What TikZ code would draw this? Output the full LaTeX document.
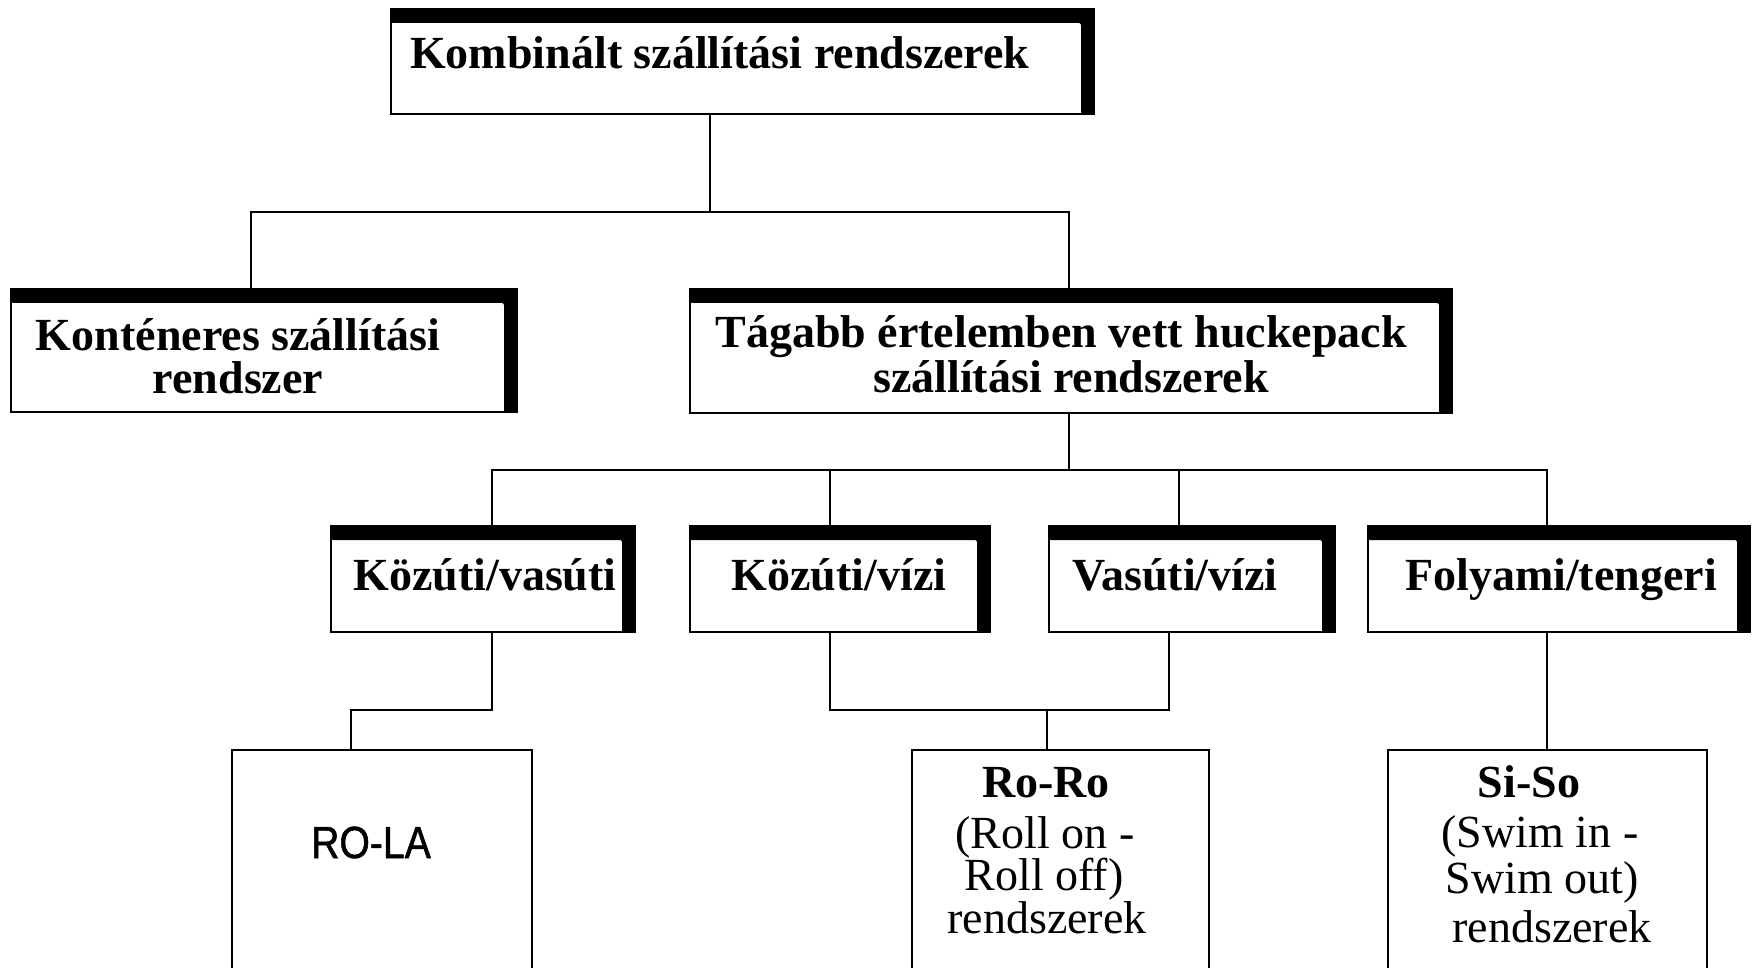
\documentclass[tikz,border=0pt]{standalone}
\usepackage{fontspec}
\setmainfont{Liberation Serif}
\newfontfamily\rolafont[FakeStretch=0.87,FakeBold=1.2]{Liberation Sans}
\newcommand{\heavybar}[1]{%
  \fill[rounded corners=2pt] (#1.north west) -- (#1.north east) -- (#1.south east)
    -- ([xshift=-13pt]#1.south east) -- ([xshift=-13pt,yshift=-14pt]#1.north east)
    -- ([yshift=-14pt]#1.north west) -- cycle;}
\begin{document}
\begin{tikzpicture}[x=1pt,y=-1pt,
  frame/.style={draw, line width=2.8pt, inner sep=0pt, outer sep=0pt, anchor=north west},
  openframe/.style={inner sep=0pt, outer sep=0pt, anchor=north west},
  conn/.style={line width=2.8pt},
  btxt/.style={font=\fontsize{46}{46}\selectfont\bfseries, anchor=base, inner sep=0pt, text height=30pt, text depth=8pt},
  rtxt/.style={font=\fontsize{46}{46}\selectfont, anchor=base, inner sep=0pt, text height=30pt, text depth=8pt},
  mtxt/.style={anchor=base, inner sep=0pt, align=center, font=\fontsize{46}{40}\selectfont}]
\useasboundingbox (0,0) rectangle (1754,968);
\fill[white] (0,0) rectangle (1754,968);

% boxes
\node[frame, minimum width=703pt, minimum height=105pt] (t0) at (391,9) {};
\node[frame, minimum width=506pt, minimum height=123pt] (k) at (11,289) {};
\node[frame, minimum width=762pt, minimum height=124pt] (tg) at (690,289) {};
\node[frame, minimum width=304pt, minimum height=106pt] (kv) at (331,526) {};
\node[frame, minimum width=300pt, minimum height=106pt] (kw) at (690,526) {};
\node[frame, minimum width=286pt, minimum height=106pt] (vw) at (1049,526) {};
\node[frame, minimum width=382pt, minimum height=106pt] (ft) at (1368,526) {};
\node[openframe, minimum width=300pt, minimum height=218pt] (rola) at (232,750) {};
\node[openframe, minimum width=297pt, minimum height=218pt] (roro) at (912,750) {};
\node[openframe, minimum width=319pt, minimum height=218pt] (siso) at (1388,750) {};
\draw[line width=2.8pt] (rola.south west) |- (rola.north east) -- (rola.south east);
\draw[line width=2.8pt] (roro.south west) |- (roro.north east) -- (roro.south east);
\draw[line width=2.8pt] (siso.south west) |- (siso.north east) -- (siso.south east);

\heavybar{t0}
\heavybar{k}
\heavybar{tg}
\heavybar{kv}
\heavybar{kw}
\heavybar{vw}
\heavybar{ft}

% texts
\node[btxt, anchor=base west] (t0t) at (410,69) {Kombinált szállítási rendszerek};
\node[mtxt, font=\fontsize{46}{43}\selectfont\bfseries] (kt) at (238,393) {Konténeres szállítási\\rendszer};
\node[btxt] (tgt1) at (1061,348) {Tágabb értelemben vett huckepack};
\node[btxt] (tgt2) at (1071,392) {szállítási rendszerek};
\node[btxt] (kvt) at (485,590) {Közúti/vasúti};
\node[btxt] (kwt) at (839,590) {Közúti/vízi};
\node[btxt] (vwt) at (1175,590) {Vasúti/vízi};
\node[btxt] (ftt) at (1561,590) {Folyami/tengeri};
\node[anchor=base, inner sep=0pt, font=\rolafont\fontsize{45}{45}\selectfont] (rolat) at (371,858) {RO-LA};
\node[btxt] (rorot1) at (1046,797) {Ro-Ro};
\node[rtxt] (rorot2) at (1045,848) {(Roll on -};
\node[mtxt] (rorot3) at (1044,933) {Roll off)\\\hspace*{6pt}rendszerek};
\node[btxt] (sisot1) at (1529,797) {Si-So};
\node[rtxt] (sisot2) at (1540,847) {(Swim in -};
\node[rtxt] (sisot3) at (1542,893) {Swim out)};
\node[rtxt] (sisot4) at (1552,942) {rendszerek};

% connectors
\coordinate (c1) at (710,212);
\coordinate (c1l) at (251,212);
\coordinate (c1r) at (1069,212);
\draw[conn] (t0.south -| c1) -- (c1);
\draw[conn] (k.north -| c1l) -- (c1l) -- (c1r) -- (tg.north -| c1r);

\coordinate (c2) at (1069,470);
\coordinate (c2l) at (492,470);
\coordinate (c2r) at (1547,470);
\coordinate (d2) at (830,470);
\coordinate (d3) at (1179,470);
\draw[conn] (tg.south -| c2) -- (c2);
\draw[conn] (kv.north -| c2l) -- (c2l) -- (c2r) -- (ft.north -| c2r);
\draw[conn] (d2) -- (kw.north -| d2);
\draw[conn] (d3) -- (vw.north -| d3);

\coordinate (e1) at (492,710);
\coordinate (e1l) at (351,710);
\draw[conn] (kv.south -| e1) -- (e1) -- (e1l) -- (rola.north -| e1l);
\coordinate (e2) at (830,710);
\coordinate (e2r) at (1169,710);
\coordinate (e2m) at (1047,710);
\draw[conn] (kw.south -| e2) -- (e2) -- (e2r) -- (vw.south -| e2r);
\draw[conn] (e2m) -- (roro.north -| e2m);
\draw[conn] (ft.south -| c2r) -- (siso.north -| c2r);
\end{tikzpicture}
\end{document}
